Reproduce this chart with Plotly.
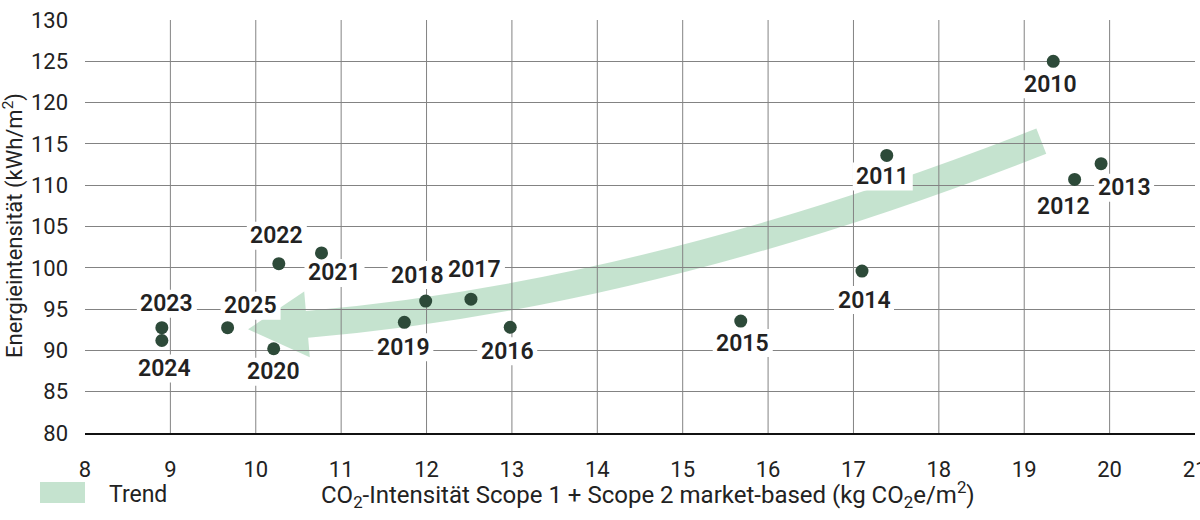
import math
import plotly.graph_objects as go

# ---------------- data ----------------
years = [2010, 2011, 2012, 2013, 2014, 2015, 2016, 2017, 2018, 2019,
         2020, 2021, 2022, 2023, 2024, 2025]
co2_intensity = [19.34, 17.39, 19.59, 19.90, 17.10, 15.68, 12.98, 12.52, 11.99, 11.74,
                 10.21, 10.77, 10.27, 8.90, 8.90, 9.67]
energy_intensity = [125.0, 113.6, 110.7, 112.6, 99.6, 93.55, 92.8, 96.2, 95.97, 93.4,
                    90.2, 101.8, 100.5, 92.75, 91.2, 92.75]

x_ticks = list(range(8, 22))
y_ticks = list(range(80, 131, 5))

# trend arrow centre line (data coordinates)
trend_tip = (9.91, 92.55)
trend_base = (10.60, 93.15)
trend_ctrl = (14.60, 96.67)
trend_tail = (19.20, 115.33)

# label offsets in pixels (dx right, dy down)
label_dx = [-3, -4, -11, 23, 2, 2, -3, 4, -8, -1, 0, 13, -2, 5, 3, 23]
label_dy = [23, 21, 27, 24, 29, 22, 24, -30, -26, 25, 23, 20, -28, -24, 28, -22]

# ---------------- layout constants (page pixels) ----------------
W, H = 1200, 520
PL, PR, PT, PB = 85, 1195, 20, 433   # plot area in page pixels
PW, PH = PR - PL, PB - PT
XR = (x_ticks[0], x_ticks[-1])
YR = (y_ticks[0], y_ticks[-1])
SX = PW / (XR[1] - XR[0])
SY = PH / (YR[1] - YR[0])

DOT = "#2d4a39"
TREND = "rgba(140,200,160,0.5)"
GRID = "#838383"
TXT = "#222222"
FONT = "Roboto"
BOX_W, BOX_H = 60, 28


def px_x(px):
    return (px - PL) / PW


def px_y(py):
    return (PB - py) / PH


def to_px(p):
    return ((p[0] - XR[0]) * SX, (YR[1] - p[1]) * SY)


def to_data(p):
    return (XR[0] + p[0] / SX, YR[1] - p[1] / SY)


def unit(v):
    n = math.hypot(v[0], v[1])
    return (v[0] / n, v[1] / n)


def intersect(p1, d1, p2, d2):
    den = d1[0] * d2[1] - d1[1] * d2[0]
    t = ((p2[0] - p1[0]) * d2[1] - (p2[1] - p1[1]) * d2[0]) / den
    return (p1[0] + t * d1[0], p1[1] + t * d1[1])


B = to_px(trend_base)
C = to_px(trend_ctrl)
T = to_px(trend_tail)
TIP = to_px(trend_tip)
tB = unit((C[0] - B[0], C[1] - B[1]))
tT = unit((T[0] - C[0], T[1] - C[1]))
nB = (-tB[1], tB[0])
nT = (-tT[1], tT[0])
half_body = 13.5
half_head = 33.0


def side(s):
    p0 = (B[0] + s * nB[0], B[1] + s * nB[1])
    p2 = (T[0] + s * nT[0], T[1] + s * nT[1])
    c = intersect(p0, tB, p2, tT)
    return p0, c, p2


a0, ac, a2 = side(half_body)
b0, bc, b2 = side(-half_body)
barb_up = (B[0] - half_head * nB[0], B[1] - half_head * nB[1])
barb_dn = (B[0] + half_head * nB[0], B[1] + half_head * nB[1])


def f(p):
    d = to_data(p)
    return f"{d[0]:.4f},{d[1]:.4f}"


arrow_path = (f"M {f(a0)} Q {f(ac)} {f(a2)} L {f(b2)} Q {f(bc)} {f(b0)} "
              f"L {f(barb_up)} L {f(TIP)} L {f(barb_dn)} Z")

fig = go.Figure()

fig.add_trace(go.Scatter(
    x=co2_intensity, y=energy_intensity, mode="markers",
    marker=dict(size=13, color=DOT), hoverinfo="skip", showlegend=False))

shapes = [dict(type="path", path=arrow_path, xref="x", yref="y",
               fillcolor=TREND, line=dict(width=0), layer="below")]
for xv in x_ticks[1:-1]:
    shapes.append(dict(type="line", xref="x", yref="y", x0=xv, x1=xv,
                       y0=YR[0], y1=YR[1], line=dict(color=GRID, width=1),
                       layer="below"))
# white label backgrounds (above grid, below markers)
for xv, yv, dx, dy in zip(co2_intensity, energy_intensity, label_dx, label_dy):
    shapes.append(dict(type="rect", xref="x", yref="y",
                       xsizemode="pixel", ysizemode="pixel",
                       xanchor=xv, yanchor=yv,
                       x0=dx - BOX_W / 2, x1=dx + BOX_W / 2,
                       y0=-dy - BOX_H / 2, y1=-dy + BOX_H / 2,
                       fillcolor="white", line=dict(width=0), layer="between"))
# legend swatch
shapes.append(dict(type="rect", xref="paper", yref="paper",
                   x0=px_x(40), x1=px_x(85), y0=px_y(503), y1=px_y(482),
                   fillcolor=TREND, line=dict(width=0)))

annotations = []
for yr, xv, yv, dx, dy in zip(years, co2_intensity, energy_intensity, label_dx, label_dy):
    annotations.append(dict(
        x=xv, y=yv, xref="x", yref="y", text=str(yr), showarrow=False,
        xshift=dx, yshift=-dy,
        font=dict(family=FONT, size=23, color=TXT, weight=600)))

annotations.append(dict(
    text="Trend", xref="paper", yref="paper", x=px_x(107), y=px_y(494),
    xanchor="left", yanchor="middle", showarrow=False,
    font=dict(family=FONT, size=23, color=TXT)))
annotations.append(dict(
    text="CO<sub>2</sub>-Intensität Scope 1 + Scope 2 market-based (kg CO<sub>2</sub>e/m<sup>2</sup>)",
    xref="paper", yref="paper", x=px_x(648), y=px_y(494),
    xanchor="center", yanchor="middle", showarrow=False,
    font=dict(family=FONT, size=24, color=TXT)))
annotations.append(dict(
    text="Energieintensität (kWh/m<sup>2</sup>)", xref="paper", yref="paper",
    x=px_x(13), y=px_y(226), textangle=-90,
    xanchor="center", yanchor="middle", showarrow=False,
    font=dict(family=FONT, size=22, color=TXT)))

tick_font = dict(family=FONT, size=22, color=TXT)
fig.update_layout(
    width=W, height=H,
    margin=dict(l=PL, r=W - PR, t=PT, b=H - PB, pad=0, autoexpand=False),
    paper_bgcolor="white", plot_bgcolor="white",
    shapes=shapes, annotations=annotations,
    font=dict(family=FONT, size=22, color=TXT),
    xaxis=dict(range=list(XR), tickvals=x_ticks, showgrid=False, zeroline=False,
               showline=True, linecolor="#111111", linewidth=2, ticks="",
               ticklabelstandoff=16, tickfont=tick_font, automargin=False,
               ticklabeloverflow="allow", fixedrange=True),
    yaxis=dict(range=list(YR), tickvals=y_ticks, showgrid=True, gridcolor=GRID,
               gridwidth=1, zeroline=False, showline=False, ticks="",
               ticklabelstandoff=16, tickfont=tick_font, automargin=False,
               ticklabeloverflow="allow", fixedrange=True),
)

fig.write_html("out.html", config={"displayModeBar": False},
               post_script="document.body.style.margin='0';document.body.style.overflow='hidden';")
